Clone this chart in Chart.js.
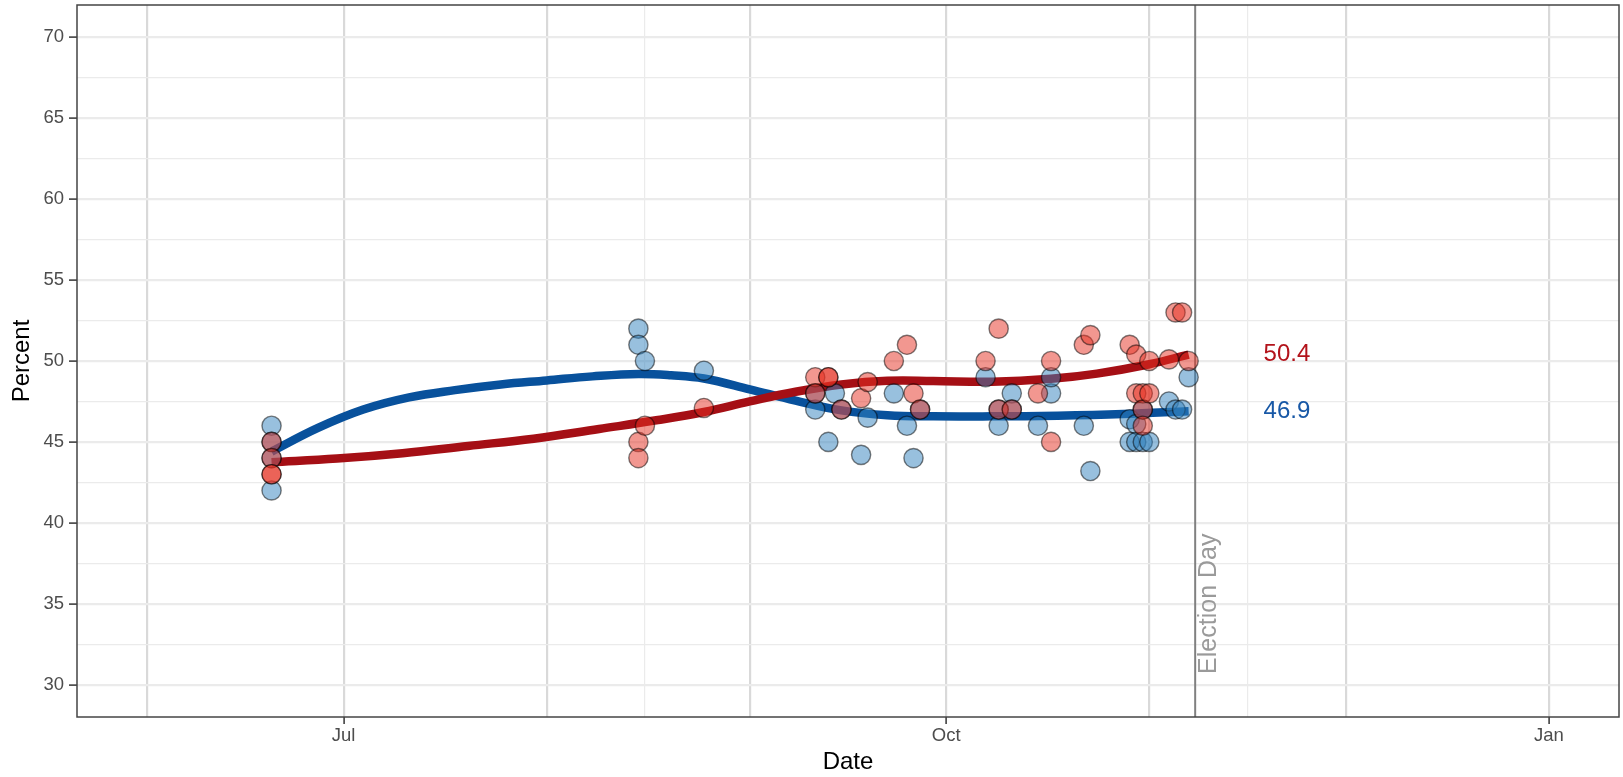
<!DOCTYPE html>
<html>
<head>
<meta charset="utf-8">
<script src="https://cdn.jsdelivr.net/npm/chart.js@4.4.1/dist/chart.umd.min.js"></script>
<style>
  html, body { margin: 0; padding: 0; background: #fff; }
  #wrap { width: 1623px; height: 777px; }
</style>
</head>
<body>
<div id="wrap"><canvas id="chart" width="1623" height="777"></canvas></div>
<script>
// poll points (one entry per poll)
const blueDates = [
  "2016-06-20", "2016-06-20", "2016-06-20", "2016-06-20", "2016-08-15", "2016-08-15", "2016-08-16", "2016-08-25",
  "2016-09-11", "2016-09-11", "2016-09-13", "2016-09-14", "2016-09-15", "2016-09-18", "2016-09-19", "2016-09-23",
  "2016-09-25", "2016-09-26", "2016-09-27", "2016-10-07", "2016-10-09", "2016-10-09", "2016-10-11", "2016-10-11",
  "2016-10-15", "2016-10-17", "2016-10-17", "2016-10-22", "2016-10-23", "2016-10-29", "2016-10-29", "2016-10-30",
  "2016-10-30", "2016-10-31", "2016-10-31", "2016-11-01", "2016-11-04", "2016-11-05", "2016-11-06", "2016-11-07",
];
const blueValues = [
  46, 45, 44, 42, 52, 51, 50, 49.4,
  47, 48, 45, 48, 47, 44.2, 46.5, 48,
  46, 44, 47, 49, 46, 47, 48, 47,
  46, 48, 49, 46, 43.2, 46.4, 45, 46.1,
  45, 45, 47, 45, 47.5, 47, 47, 49,
];
const redDates = [
  "2016-06-20", "2016-06-20", "2016-06-20", "2016-06-20", "2016-08-15", "2016-08-15", "2016-08-16", "2016-08-25",
  "2016-09-11", "2016-09-11", "2016-09-13", "2016-09-13", "2016-09-15", "2016-09-18", "2016-09-19", "2016-09-23",
  "2016-09-25", "2016-09-26", "2016-09-27", "2016-10-07", "2016-10-09", "2016-10-09", "2016-10-11", "2016-10-15",
  "2016-10-17", "2016-10-17", "2016-10-22", "2016-10-23", "2016-10-29", "2016-10-30", "2016-10-30", "2016-10-31",
  "2016-10-31", "2016-10-31", "2016-11-01", "2016-11-01", "2016-11-04", "2016-11-05", "2016-11-06", "2016-11-07",
];
const redValues = [
  45, 44, 43, 43, 45, 44, 46, 47.1,
  49, 48, 49, 49, 47, 47.7, 48.7, 50,
  51, 48, 47, 50, 52, 47, 47, 48,
  50, 45, 51, 51.6, 51, 50.4, 48, 48,
  47, 46, 50, 48, 50.1, 53, 53, 50,
];

// smoothed trend lines
const blueTrendDates = [
  "2016-06-20", "2016-06-27", "2016-07-04", "2016-07-11", "2016-07-18", "2016-07-25", "2016-08-01", "2016-08-08",
  "2016-08-15", "2016-08-20", "2016-08-25", "2016-09-01", "2016-09-08", "2016-09-15", "2016-09-22", "2016-09-29",
  "2016-10-08", "2016-10-18", "2016-10-28", "2016-11-07",
];
const blueTrendValues = [
  44.4, 45.85, 47.0, 47.75, 48.2, 48.55, 48.8, 49.05,
  49.2, 49.12, 48.92, 48.25, 47.55, 46.95, 46.65, 46.58,
  46.58, 46.62, 46.72, 46.9,
];
const redTrendDates = [
  "2016-06-20", "2016-06-30", "2016-07-10", "2016-07-20", "2016-07-30", "2016-08-09", "2016-08-18", "2016-08-25",
  "2016-09-01", "2016-09-08", "2016-09-15", "2016-09-22", "2016-09-29", "2016-10-08", "2016-10-17", "2016-10-24",
  "2016-11-01", "2016-11-07",
];
const redTrendValues = [
  43.75, 43.97, 44.3, 44.75, 45.2, 45.8, 46.35, 46.85,
  47.5, 48.1, 48.55, 48.78, 48.77, 48.72, 48.9, 49.22,
  49.8, 50.4,
];

// axes
const xLimits = ["2016-06-01", "2017-01-01"];
const yLimits = [28, 72];
const monthBreaks = ["2016-06-01", "2016-07-01", "2016-08-01", "2016-09-01", "2016-10-01", "2016-11-01", "2016-12-01", "2017-01-01"];
const minorBreaks = ["2016-08-16", "2016-11-16"];
const labeledBreaks = ["2016-07-01", "2016-10-01", "2017-01-01"];
const breakLabels = ["Jul", "Oct", "Jan"];
const yBreaks = [30, 35, 40, 45, 50, 55, 60, 65, 70];
const yMinorBreaks = [32.5, 37.5, 42.5, 47.5, 52.5, 57.5, 62.5, 67.5];
const electionDay = "2016-11-08";
const electionLabel = "Election Day";

const DAY = 86400000;
const toDay = (s) => Date.parse(s) / DAY;
const pts = (dates, vals) => dates.map((d, i) => ({ x: toDay(d), y: vals[i] }));

const x0 = toDay(xLimits[0]);
const x1 = toDay(xLimits[1]);
const xPad = (x1 - x0) * 0.05;
const monthDays = monthBreaks.map(toDay);
const labeledDays = labeledBreaks.map(toDay);
const xTickDays = [...monthDays, ...minorBreaks.map(toDay)].sort((a, b) => a - b);

const FONT = "'Liberation Sans', Arial, Helvetica, sans-serif";
const BLUE_LINE = "#08519C";
const RED_LINE = "#A50F15";

const panel = {
  id: "panel",
  beforeDatasetsDraw(chart) {
    const { ctx, chartArea: a, scales: { x } } = chart;
    const ex = x.getPixelForValue(toDay(electionDay));
    ctx.save();
    ctx.strokeStyle = "#808080";
    ctx.lineWidth = 2;
    ctx.beginPath();
    ctx.moveTo(ex, a.top);
    ctx.lineTo(ex, a.bottom);
    ctx.stroke();
    ctx.restore();
  },
  afterDatasetsDraw(chart) {
    const { ctx, chartArea: a, scales: { x, y } } = chart;
    const ed = toDay(electionDay);
    ctx.save();
    // rotated annotation next to the election day line
    ctx.translate(x.getPixelForValue(ed + 2.2), y.getPixelForValue(35));
    ctx.rotate(-Math.PI / 2);
    ctx.font = `25px ${FONT}`;
    ctx.fillStyle = "#9a9a9a";
    ctx.textAlign = "center";
    ctx.textBaseline = "middle";
    ctx.fillText(electionLabel, 0, 0);
    ctx.restore();

    // final trend values
    ctx.save();
    ctx.font = `24px ${FONT}`;
    ctx.textAlign = "center";
    ctx.textBaseline = "middle";
    const lastRed = redTrendValues[redTrendValues.length - 1];
    const lastBlue = blueTrendValues[blueTrendValues.length - 1];
    ctx.fillStyle = "#B3131B";
    ctx.fillText(lastRed.toFixed(1), x.getPixelForValue(ed + 14), y.getPixelForValue(lastRed));
    ctx.fillStyle = "#1858A6";
    ctx.fillText(lastBlue.toFixed(1), x.getPixelForValue(ed + 14), y.getPixelForValue(lastBlue));
    ctx.restore();

    // panel border
    ctx.save();
    ctx.strokeStyle = "#444";
    ctx.lineWidth = 1.5;
    ctx.strokeRect(a.left, a.top, a.right - a.left, a.bottom - a.top);
    ctx.restore();
  },
};

const pollStyle = { pointRadius: 9.6, pointBorderWidth: 1.4, borderColor: "rgba(0,0,0,0.5)" };
const trendStyle = { showLine: true, tension: 0.4, pointRadius: 0, borderWidth: 8.5, borderCapStyle: "butt" };

new Chart(document.getElementById("chart"), {
  type: "scatter",
  data: {
    datasets: [
      { label: "red polls", data: pts(redDates, redValues), order: 1, backgroundColor: "rgba(230,48,34,0.5)", ...pollStyle },
      { label: "blue polls", data: pts(blueDates, blueValues), order: 2, backgroundColor: "rgba(49,130,189,0.5)", ...pollStyle },
      { label: "red trend", data: pts(redTrendDates, redTrendValues), order: 3, borderColor: RED_LINE, ...trendStyle },
      { label: "blue trend", data: pts(blueTrendDates, blueTrendValues), order: 4, borderColor: BLUE_LINE, ...trendStyle },
    ],
  },
  options: {
    responsive: false,
    animation: false,
    devicePixelRatio: 1,
    layout: { autoPadding: false, padding: { top: 5, right: 4, left: 0, bottom: 0 } },
    plugins: { legend: { display: false }, tooltip: { enabled: false } },
    scales: {
      x: {
        type: "linear",
        min: x0 - xPad,
        max: x1 + xPad,
        afterBuildTicks: (s) => { s.ticks = xTickDays.map((v) => ({ value: v })); },
        afterFit: (s) => {
          s.height = 60;
          s.paddingLeft = 0;
          s.paddingRight = 0;
        },
        border: { display: false },
        grid: {
          color: (c) => (c.tick && monthDays.includes(c.tick.value) ? "#d9d9d9" : "#ebebeb"),
          lineWidth: (c) => (c.tick && monthDays.includes(c.tick.value) ? 2.2 : 1.2),
          tickColor: (c) => (c.tick && labeledDays.includes(c.tick.value) ? "#333" : "rgba(0,0,0,0)"),
          tickLength: 7,
          tickWidth: 1.5,
        },
        ticks: {
          autoSkip: false,
          maxRotation: 0,
          padding: 1,
          color: "#4D4D4D",
          font: { family: FONT, size: 18.5 },
          callback: (v) => {
            const i = labeledDays.indexOf(v);
            return i >= 0 ? breakLabels[i] : "";
          },
        },
        title: {
          display: true,
          text: "Date",
          color: "#000",
          font: { family: FONT, size: 24 },
          padding: { top: 0, bottom: 0 },
        },
      },
      y: {
        min: yLimits[0],
        max: yLimits[1],
        afterBuildTicks: (s) => {
          s.ticks = [...yBreaks, ...yMinorBreaks].sort((a, b) => a - b).map((v) => ({ value: v }));
        },
        afterFit: (s) => {
          s.width = 77;
          s.paddingTop = 0;
          s.paddingBottom = 0;
        },
        border: { display: false },
        grid: {
          color: "#ebebeb",
          lineWidth: (c) => (c.tick && yBreaks.includes(c.tick.value) ? 2.2 : 1.2),
          tickColor: (c) => (c.tick && yBreaks.includes(c.tick.value) ? "#333" : "rgba(0,0,0,0)"),
          tickLength: 8,
          tickWidth: 1.5,
        },
        ticks: {
          autoSkip: false,
          padding: 5,
          color: "#4D4D4D",
          font: { family: FONT, size: 18.5 },
          callback: (v) => (yBreaks.includes(v) ? String(v) : ""),
        },
        title: {
          display: true,
          text: "Percent",
          color: "#000",
          font: { family: FONT, size: 24 },
          padding: { top: 8.4, bottom: 0 },
        },
      },
    },
  },
  plugins: [panel],
});
</script>
</body>
</html>
